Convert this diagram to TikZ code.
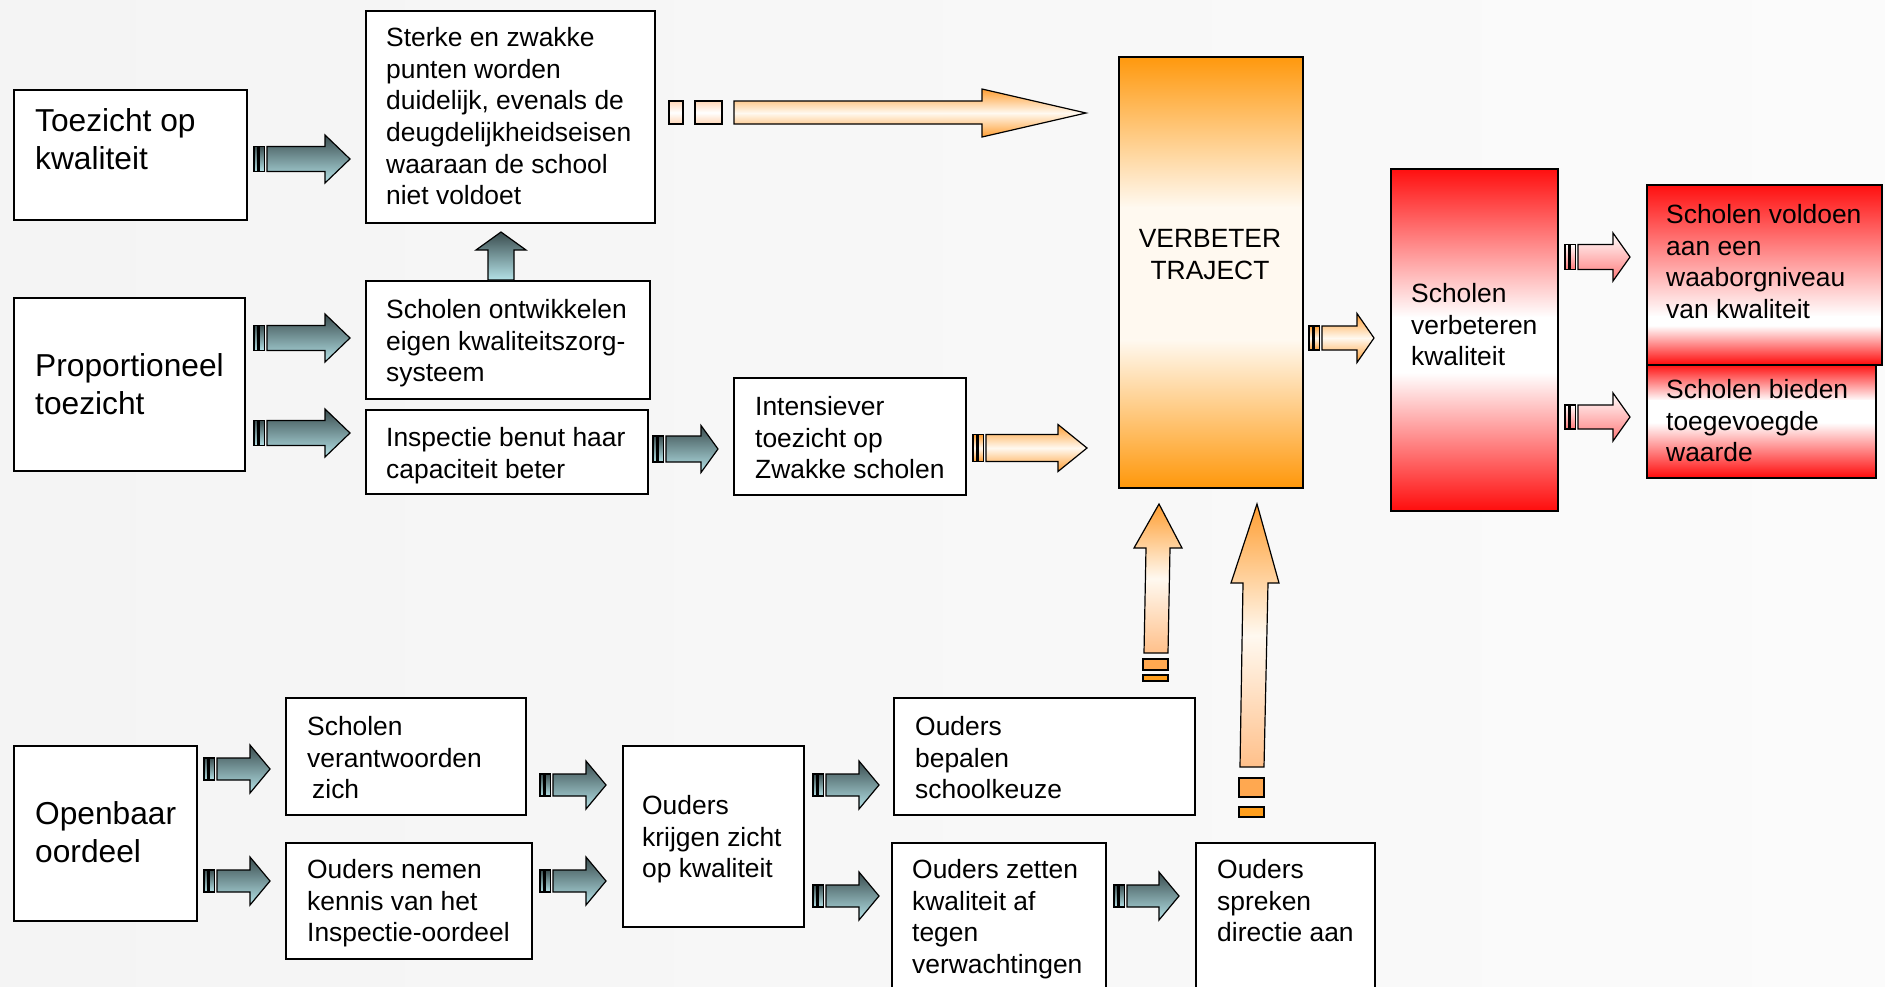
\documentclass[tikz,border=0pt]{standalone}
\usepackage{fontspec}
\setmainfont{Liberation Sans}
\definecolor{bgA}{RGB}{244,244,244}
\definecolor{bgB}{RGB}{251,251,251}
\definecolor{tealtop}{RGB}{58,76,78}
\definecolor{tealbot}{RGB}{180,226,231}
\definecolor{orgA}{RGB}{255,152,12}
\definecolor{orgW}{RGB}{255,249,240}
\definecolor{arrO}{RGB}{255,158,50}
\definecolor{arrObot}{RGB}{255,192,138}
\definecolor{redc}{RGB}{255,14,14}
\definecolor{pinkA}{RGB}{255,120,120}
\definecolor{rectA}{RGB}{255,168,80}
\definecolor{rectB}{RGB}{255,158,28}
\definecolor{peach}{RGB}{255,214,182}
% #1 x left, #2 x right, #3 y top, #4 y plateau start, #5 y plateau end, #6 y bottom, #7 edge colour, #8 middle colour
\newcommand{\vgrad}[8]{%
  \shade[top color=#7, bottom color=#8] (#1,#3) rectangle (#2,#4+0.5);
  \fill[#8] (#1,#4) rectangle (#2,#5);
  \shade[top color=#8, bottom color=#7] (#1,#5-0.5) rectangle (#2,#6);
}
% #1 x0, #2 tip x, #3 centre y, #4 shaft half height, #5 head half height, #6 head length, #7 style
\newcommand{\blockarrow}[7]{%
  \path[#7] (#1,#3-#4) rectangle (#1+4,#3+#4);
  \path[#7] (#1+5.5,#3-#4) rectangle (#1+10.5,#3+#4);
  \path[#7] (#1+13,#3-#4) -- (#2-#6,#3-#4) -- (#2-#6,#3-#5) -- (#2,#3) -- (#2-#6,#3+#5) -- (#2-#6,#3+#4) -- (#1+13,#3+#4) -- cycle;
}
\begin{document}
\begin{tikzpicture}[x=1pt,y=-1pt,
  box/.style={draw=black, line width=1.5pt, fill=white, inner sep=0pt, anchor=north west},
  cbox/.style={draw=black, line width=1.5pt, inner sep=0pt, anchor=north west},
  txtS/.style={font=\fontsize{26.4}{31.7}\selectfont, align=left, inner sep=0pt, anchor=north west},
  txtL/.style={font=\fontsize{31.7}{38}\selectfont, align=left, inner sep=0pt, anchor=north west},
  tealar/.style={draw=black, line width=1.2pt, top color=tealtop, bottom color=tealbot},
  orgar/.style={draw=black, line width=1.2pt, top color=arrO, bottom color=arrO, middle color=orgW},
  pinkar/.style={draw=black, line width=1.2pt, top color=white, bottom color=pinkA},
  vertar/.style={draw=black, line width=1.2pt, top color=arrO, bottom color=arrObot, middle color=orgW},
  peachrect/.style={draw=black, line width=1.2pt, top color=peach, bottom color=peach, middle color=white},
]
\useasboundingbox (0,0) rectangle (1885,986);
\fill[left color=bgA, right color=bgB] (0,0) rectangle (1885,986);

% gradient fills of the coloured boxes
\vgrad{1118}{1302}{56}{207}{340}{487}{orgA}{orgW}
\vgrad{1390}{1557}{168}{317}{373}{510}{redc}{white}
\vgrad{1646}{1881}{184}{316}{326}{364}{redc}{white}
\vgrad{1646}{1875}{364}{400}{423}{477}{redc}{white}

% boxes
\node[box, minimum width=233pt, minimum height=130pt] (toez) at (13,89) {};
\node[box, minimum width=289pt, minimum height=212pt] (sterke) at (365,10) {};
\node[box, minimum width=231pt, minimum height=173pt] (prop) at (13,297) {};
\node[box, minimum width=284pt, minimum height=118pt] (ontw) at (365,280) {};
\node[box, minimum width=282pt, minimum height=84pt] (insp) at (365,409) {};
\node[box, minimum width=232pt, minimum height=117pt] (inten) at (733,377) {};
\node[cbox, minimum width=184pt, minimum height=431pt] (verb) at (1118,56) {};
\node[cbox, minimum width=167pt, minimum height=342pt] (verbk) at (1390,168) {};
\node[cbox, minimum width=235pt, minimum height=180pt] (vold) at (1646,184) {};
\node[cbox, minimum width=229pt, minimum height=113pt] (bied) at (1646,364) {};
\node[box, minimum width=183pt, minimum height=175pt] (open) at (13,745) {};
\node[box, minimum width=240pt, minimum height=117pt] (verant) at (285,697) {};
\node[box, minimum width=246pt, minimum height=116pt] (nemen) at (285,842) {};
\node[box, minimum width=181pt, minimum height=181pt] (krijg) at (622,745) {};
\node[box, minimum width=301pt, minimum height=117pt] (bepal) at (893,697) {};
\node[box, minimum width=214pt, minimum height=170pt] (zett) at (891,842) {};
\node[box, minimum width=179pt, minimum height=170pt] (sprek) at (1195,842) {};

% texts
\node[txtL] (toezT) at (35,105) {\strut Toezicht op\\kwaliteit};
\node[txtS] (sterkeT) at (386,24) {\strut Sterke en zwakke\\punten worden\\duidelijk, evenals de\\deugdelijkheidseisen\\waaraan de school\\niet voldoet};
\node[txtL] (propT) at (35,350) {\strut Proportioneel\\toezicht};
\node[txtS] (ontwT) at (386,296) {\strut Scholen ontwikkelen\\eigen kwaliteitszorg-\\systeem};
\node[txtS] (inspT) at (386,424) {\strut Inspectie benut haar\\capaciteit beter};
\node[txtS] (intenT) at (755,393) {\strut Intensiever\\toezicht op\\Zwakke scholen};
\node[txtS, align=center, anchor=north] (verbT) at (1210,225) {\strut VERBETER\\TRAJECT};
\node[txtS] (verbkT) at (1411,280) {\strut Scholen\\verbeteren\\kwaliteit};
\node[txtS] (voldT) at (1666,201) {\strut Scholen voldoen\\aan een\\waaborgniveau\\van kwaliteit};
\node[txtS] (biedT) at (1666,376) {\strut Scholen bieden\\toegevoegde\\waarde};
\node[txtL] (openT) at (35,798) {\strut Openbaar\\oordeel};
\node[txtS] (verantT) at (307,713) {\strut Scholen\\verantwoorden\\\hspace*{5pt}zich};
\node[txtS] (nemenT) at (307,856) {\strut Ouders nemen\\kennis van het\\Inspectie-oordeel};
\node[txtS] (krijgT) at (642,792) {\strut Ouders\\krijgen zicht\\op kwaliteit};
\node[txtS] (bepalT) at (915,713) {\strut Ouders\\bepalen\\schoolkeuze};
\node[txtS] (zettT) at (912,856) {\strut Ouders zetten\\kwaliteit af\\tegen\\verwachtingen};
\node[txtS] (sprekT) at (1217,856) {\strut Ouders\\spreken\\directie aan};

% teal block arrows
\blockarrow{254}{350}{159}{12.5}{24}{25}{tealar}
\blockarrow{254}{350}{338}{12.5}{24}{25}{tealar}
\blockarrow{254}{350}{433}{12.5}{24}{25}{tealar}
\blockarrow{653}{718}{449}{13}{23.5}{17}{tealar}
\blockarrow{204}{270}{769}{11}{24}{20}{tealar}
\blockarrow{204}{270}{881}{11}{24}{20}{tealar}
\blockarrow{540}{606}{785}{11}{24}{20}{tealar}
\blockarrow{540}{606}{881}{11}{24}{20}{tealar}
\blockarrow{813}{879}{785}{11}{24}{20}{tealar}
\blockarrow{813}{879}{896}{11}{24}{20}{tealar}
\blockarrow{1114}{1179}{896}{11}{24}{20}{tealar}
\path[tealar] (501,232) -- (526,250) -- (514,250) -- (514,280) -- (488,280) -- (488,250) -- (476,250) -- cycle;

% orange block arrows
\path[peachrect] (669,101) rectangle (683,124);
\path[peachrect] (695,101) rectangle (722,124);
\path[orgar] (734,101) -- (982,101) -- (982,89) -- (1086,113) -- (982,137) -- (982,124) -- (734,124) -- cycle;
\blockarrow{973}{1087}{448}{13.5}{23.5}{29}{orgar}
\blockarrow{1309}{1374}{338}{12}{24.5}{17}{orgar}
\blockarrow{1565}{1630}{257}{12.5}{24}{17}{pinkar}
\blockarrow{1565}{1630}{417}{12}{24}{17}{pinkar}

% vertical orange arrows
\path[vertar] (1159,504) -- (1182,548) -- (1170,548) -- (1168,653) -- (1144,653) -- (1146,548) -- (1134,548) -- cycle;
\path[draw=black, line width=1.2pt, fill=rectA] (1143,659) rectangle (1168,670);
\path[draw=black, line width=1.2pt, fill=rectB] (1143,675) rectangle (1168,681);
\path[vertar] (1257,504) -- (1279,583) -- (1268,583) -- (1264,767) -- (1240,767) -- (1243,583) -- (1231,583) -- cycle;
\path[draw=black, line width=1.2pt, fill=rectA] (1239,778) rectangle (1264,797);
\path[draw=black, line width=1.2pt, fill=rectB] (1239,807) rectangle (1264,817);
\end{tikzpicture}
\end{document}
